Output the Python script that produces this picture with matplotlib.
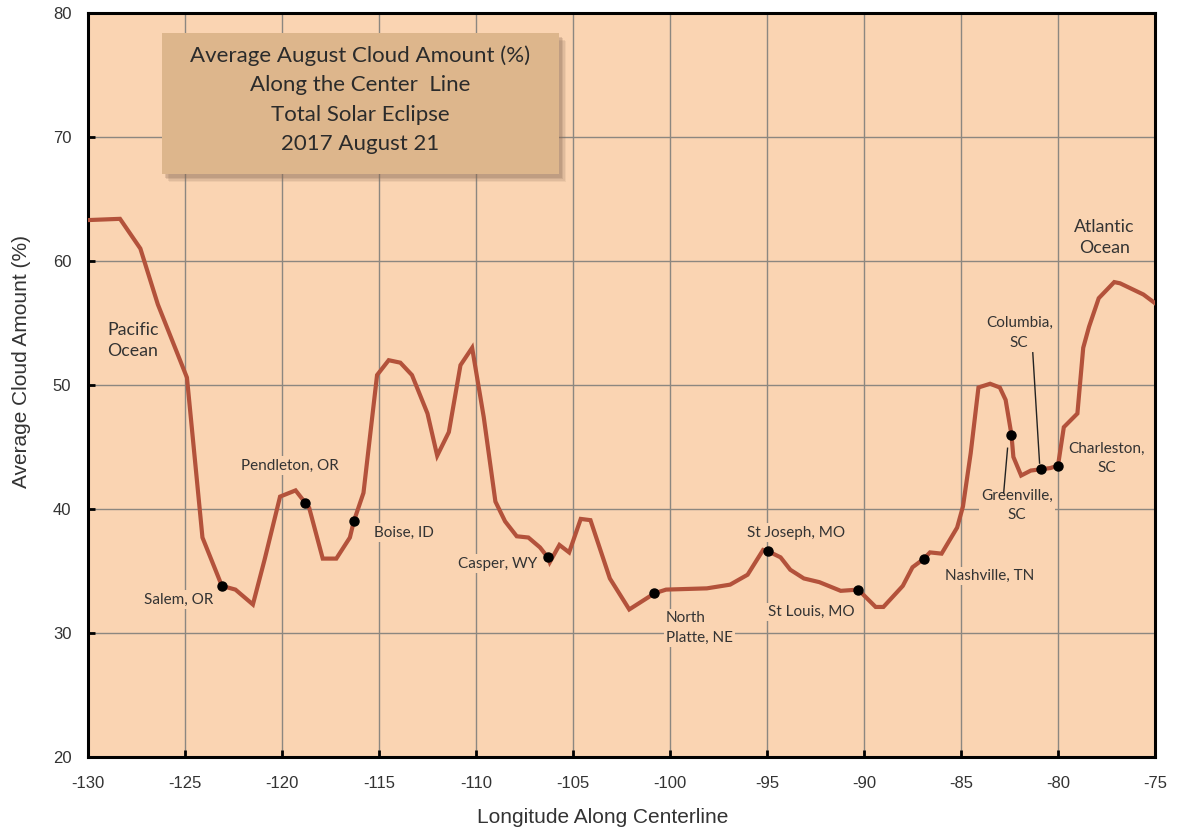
import matplotlib
matplotlib.use("Agg")
import matplotlib.pyplot as plt
from matplotlib.patches import FancyBboxPatch

plt.rcParams["axes.unicode_minus"] = False

# ---- data ----
lon = [-130, -128.35, -127.3, -126.4, -124.9, -124.1, -123.1, -122.4, -121.5, -120.9,
       -120.1, -119.3, -118.8, -118.6, -117.9, -117.2, -116.5, -116.3, -115.8, -115.1,
       -114.5, -113.9, -113.3, -112.5, -112.0, -111.4, -110.8, -110.2, -109.6, -109.0,
       -108.5, -107.9, -107.3, -106.7, -106.3, -106.2, -105.7, -105.2, -104.6, -104.1,
       -103.1, -102.1, -100.8, -100.2, -98.1, -96.9, -96.0, -95.2, -94.95, -94.3,
       -93.8, -93.1, -92.3, -91.2, -90.3, -89.4, -89.0, -88.0, -87.5, -86.9,
       -86.6, -86.0, -85.2, -84.9, -84.5, -84.1, -83.5, -83.0, -82.7, -82.4,
       -82.3, -81.9, -81.4, -80.9, -80.4, -80.0, -79.7, -79.0, -78.7, -78.4,
       -77.9, -77.1, -76.8, -75.6, -75.0]
cloud = [63.3, 63.4, 61.0, 56.5, 50.6, 37.7, 33.8, 33.5, 32.3, 35.9,
         41.0, 41.5, 40.5, 40.1, 36.0, 36.0, 37.7, 39.0, 41.3, 50.8,
         52.0, 51.8, 50.8, 47.7, 44.3, 46.2, 51.6, 53.0, 47.4, 40.6,
         39.0, 37.8, 37.7, 36.9, 36.1, 35.7, 37.1, 36.5, 39.2, 39.1,
         34.4, 31.9, 33.2, 33.5, 33.6, 33.9, 34.7, 36.7, 36.6, 36.1,
         35.1, 34.4, 34.1, 33.4, 33.5, 32.1, 32.1, 33.8, 35.3, 36.0,
         36.5, 36.4, 38.5, 40.2, 44.5, 49.8, 50.1, 49.8, 48.8, 46.0,
         44.2, 42.7, 43.1, 43.2, 43.3, 43.5, 46.6, 47.7, 53.0, 54.7,
         57.0, 58.3, 58.2, 57.3, 56.6]

city_names = ["Salem, OR", "Pendleton, OR", "Boise, ID", "Casper, WY", "North\nPlatte, NE",
              "St Joseph, MO", "St Louis, MO", "Nashville, TN", "Greenville,\nSC",
              "Columbia,\nSC", "Charleston,\nSC"]
city_lon = [-123.1, -118.8, -116.3, -106.3, -100.8, -94.95, -90.3, -86.9, -82.4, -80.9, -80.0]
city_cloud = [33.8, 40.5, 39.0, 36.1, 33.2, 36.6, 33.5, 36.0, 46.0, 43.2, 43.5]

x_ticks = [-130, -125, -120, -115, -110, -105, -100, -95, -90, -85, -80, -75]
y_ticks = [20, 30, 40, 50, 60, 70, 80]

title_lines = ["Average August Cloud Amount (%)", "Along the Center  Line",
               "Total Solar Eclipse", "2017 August 21"]

# ---- style ----
BG = "#FAD4B2"
LINE = "#B3523B"
TXT = "#333333"
ANN_FONT = ["Lato", "DejaVu Sans"]
TICK_FONT = ["Liberation Sans", "DejaVu Sans"]

fig = plt.figure(figsize=(11.82, 8.30), dpi=100)
ax = fig.add_axes([88/1182, 73/830, (1155-88)/1182, (757-13)/830])
ax.set_facecolor(BG)
ax.set_xlim(-130, -75)
ax.set_ylim(20, 80)
ax.set_xticks(x_ticks)
ax.set_yticks(y_ticks)
ax.grid(True, color="#8c8780", linewidth=1.0, zorder=0)
ax.set_axisbelow(True)
for s in ax.spines.values():
    s.set_linewidth(2.2)
    s.set_color("black")
ax.tick_params(direction="in", length=5, width=2, labelsize=12, labelcolor=TXT)
ax.tick_params(axis="x", pad=14)
ax.tick_params(axis="y", pad=12)
for lab in ax.get_xticklabels() + ax.get_yticklabels():
    lab.set_family(TICK_FONT)

ax.set_xlabel("Longitude Along Centerline", fontsize=15, family=TICK_FONT, color=TXT)
ax.set_ylabel("Average Cloud Amount (%)", fontsize=15, family=TICK_FONT, color=TXT)
ax.xaxis.set_label_coords(0.482, -0.068)
ax.yaxis.set_label_coords(-0.053, 0.532)

ax.plot(lon, cloud, color=LINE, linewidth=3.0, zorder=3, solid_joinstyle="miter")
ax.plot(city_lon, city_cloud, "o", color="black", markersize=6.5, zorder=4)

bb = dict(boxstyle="square,pad=0.15", facecolor=BG, edgecolor="none")
ann_kw = dict(fontsize=11, family=ANN_FONT, color=TXT, zorder=2, bbox=bb)

ax.text(-125.3, 32.7, city_names[0], ha="center", va="center", **ann_kw)
ax.text(-119.6, 43.5, city_names[1], ha="center", va="center", **ann_kw)
ax.text(-113.7, 38.1, city_names[2], ha="center", va="center", **ann_kw)
ax.text(-108.9, 35.6, city_names[3], ha="center", va="center", **ann_kw)
ax.text(-100.2, 30.4, city_names[4], ha="left", va="center", linespacing=1.5, **ann_kw)
ax.text(-93.5, 38.1, city_names[5], ha="center", va="center", **ann_kw)
ax.text(-92.7, 31.7, city_names[6], ha="center", va="center", **ann_kw)
ax.text(-83.5, 34.6, city_names[7], ha="center", va="center", **ann_kw)
ax.text(-82.1, 40.3, city_names[8], ha="center", va="center", linespacing=1.5, **ann_kw)
ax.text(-82.0, 54.2, city_names[9], ha="center", va="center", linespacing=1.5, **ann_kw)
ax.text(-77.5, 44.1, city_names[10], ha="center", va="center", linespacing=1.5, **ann_kw)
ax.text(-129.0, 53.6, "Pacific\nOcean", ha="left", va="center", linespacing=1.4,
        fontsize=12.8, family=ANN_FONT, color=TXT, zorder=2)
ax.text(-77.6, 61.9, "Atlantic\nOcean", ha="center", va="center", linespacing=1.4,
        fontsize=12.8, family=ANN_FONT, color=TXT, zorder=2)

# leader lines
ax.plot([-81.3, -80.95], [52.6, 43.7], color="#222222", linewidth=1.0, zorder=3)
ax.plot([-82.6, -82.8], [44.9, 41.3], color="#222222", linewidth=1.0, zorder=3)

# title box with shadow
x0, y0 = 162/1182, 1 - 174/830
w, h = (559-162)/1182, (174-33)/830
for k, a in enumerate([0.10, 0.14, 0.18, 0.22]):
    off = (4 - k) * 1.2
    sh = FancyBboxPatch((x0 + (2 + off)/1182, y0 - (3 + off)/830), w, h,
                        boxstyle="square,pad=0", transform=fig.transFigure,
                        facecolor="#8a6a55", edgecolor="none", alpha=a, zorder=5)
    fig.patches.append(sh)
box = FancyBboxPatch((x0, y0), w, h, boxstyle="square,pad=0",
                     transform=fig.transFigure, facecolor="#DDB68C", edgecolor="none", zorder=6)
fig.patches.append(box)
cx = x0 + w / 2
for i, t in enumerate(title_lines):
    fig.text(cx, 1 - (56 + i * 29.3)/830, t, ha="center", va="center", fontsize=16,
             family=ANN_FONT, color="#2b2b2b", zorder=7)

fig.savefig("out.png", dpi=100, facecolor="white")
